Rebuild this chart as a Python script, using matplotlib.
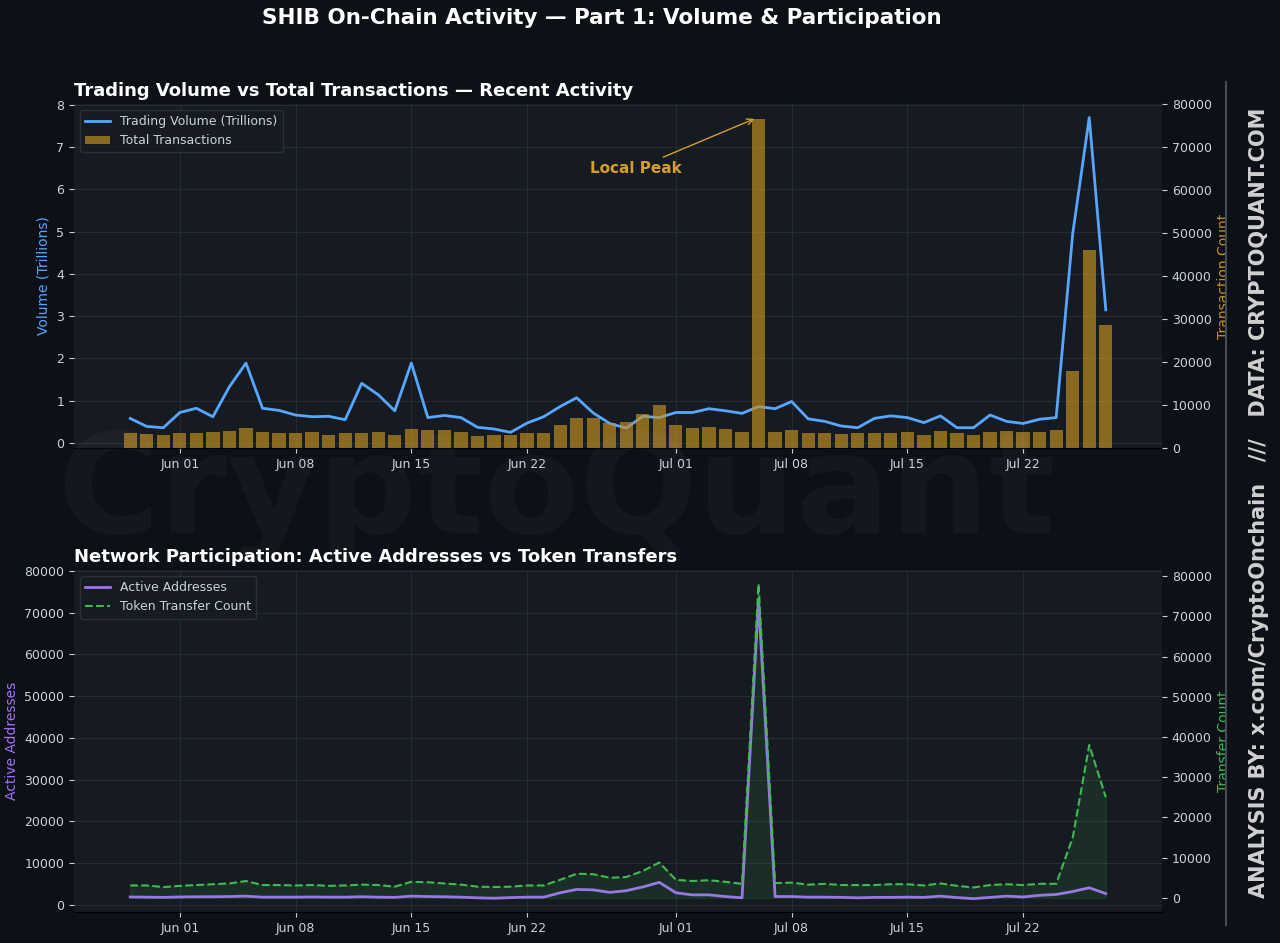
import numpy as np
import pandas as pd
import matplotlib
matplotlib.use("Agg")
import matplotlib.pyplot as plt
import matplotlib.dates as mdates

dates = pd.date_range("2025-05-29", "2025-07-27", freq="D")
volume_tn = [0.58,0.39,0.36,0.72,0.82,0.62,1.33,1.89,0.82,0.77,0.66,0.62,0.63,0.55,1.41,1.14,0.76,1.89,
             0.60,0.65,0.60,0.37,0.33,0.25,0.47,0.62,0.86,1.07,0.71,0.46,0.35,0.63,0.60,
             0.72,0.72,0.81,0.76,0.70,0.86,0.81,0.98,0.57,0.51,0.40,0.36,0.58,0.64,0.60,0.48,0.64,
             0.36,0.36,0.66,0.51,0.46,0.56,0.60,4.95,7.70,3.15]
total_tx = [3400,3300,3100,3400,3500,3700,4000,4650,3700,3400,3400,3700,3100,3400,3500,3700,3100,4400,
            4200,4100,3700,2800,3000,3100,3400,3500,5350,7000,7000,5700,6050,7900,9900,
            5350,4650,4880,4420,3720,76500,3720,4110,3400,3490,3250,3400,3400,3500,3700,3100,3950,
            3400,3100,3700,3950,3700,3700,4190,17800,46000,28700]
active_addr = [1900,1850,1800,1900,1950,1950,2000,2100,1850,1850,1850,1900,1850,1850,1950,1850,1800,2100,
               2000,1950,1850,1700,1600,1750,1850,1850,2900,3700,3600,3000,3400,4300,5400,
               2900,2400,2400,2000,1700,73000,2000,2000,1850,1850,1800,1700,1800,1800,1850,1800,2100,
               1750,1500,1800,2100,1900,2300,2500,3200,4100,2700]
transfers = [3100,3100,2700,3000,3200,3400,3600,4200,3200,3200,3100,3200,3000,3100,3300,3200,2800,4000,
             3900,3600,3300,2800,2700,2800,3100,3100,4500,6000,5900,5000,5200,6700,8800,
             4500,4200,4400,4000,3500,78000,3700,3800,3300,3500,3200,3200,3200,3400,3400,3100,3600,
             3000,2600,3200,3400,3200,3500,3500,15000,38000,25000]

BG = "#0d1117"
AX = "#161b22"
GRID = "#262c34"
TXT = "#c9d1d9"

fig = plt.figure(figsize=(12.8, 9.43), dpi=100, facecolor=BG)
ax1 = fig.add_axes([74/1280, 1-448/943, 1088/1280, 344/943], facecolor=AX)
ax3 = fig.add_axes([74/1280, 1-912/943, 1088/1280, 342/943], facecolor=AX)

fig.text(0.045, 0.475, "CryptoQuant", fontsize=100, fontweight="bold", color="#ffffff",
         alpha=0.03, ha="left", va="center", zorder=0)

xlim = (dates[0] - pd.Timedelta(days=3.4), dates[-1] + pd.Timedelta(days=3.4))

# Top panel
ax2 = ax1.twinx()
ax1.plot(dates, volume_tn, color="#58a6ff", lw=2, label="Trading Volume (Trillions)", zorder=2)
ax2.bar(dates, total_tx, width=0.8, color="#c8921e", alpha=0.65, label="Total Transactions")
ax1.set_ylim(-0.12, 8.02)
ax2.set_ylim(0, 80000)
ax1.set_xlim(*xlim)
ax1.set_ylabel("Volume (Trillions)", color="#58a6ff", fontsize=10)
ax2.set_ylabel("Transaction Count", color="#c8921e", fontsize=10)
ax1.set_title("Trading Volume vs Total Transactions — Recent Activity", loc="left",
              color="white", fontsize=13, fontweight="bold")
ax2.annotate("Local Peak", xy=(dates[38] - pd.Timedelta(days=0.1), 76800),
             xytext=(dates[30] + pd.Timedelta(days=0.6), 65000),
             color="#d4a02a", fontsize=11, fontweight="bold", ha="center", va="center",
             arrowprops=dict(arrowstyle="->", color="#d4a02a", lw=1))
h1, l1 = ax1.get_legend_handles_labels()
h2, l2 = ax2.get_legend_handles_labels()
ax1.legend(h1 + h2, l1 + l2, loc="upper left", facecolor=AX, edgecolor="#30363d",
           labelcolor=TXT, fontsize=9)

# Bottom panel
ax4 = ax3.twinx()
ax3.plot(dates, active_addr, color="#a371f7", lw=2, label="Active Addresses", zorder=3)
ax4.plot(dates, transfers, color="#3fb950", lw=1.5, ls="--", label="Token Transfer Count")
ax4.fill_between(dates, 0, transfers, color="#3fb950", alpha=0.12)
ax3.set_ylim(-1700, 80200)
ax4.set_ylim(-3500, 81500)
ax3.set_xlim(*xlim)
ax3.set_ylabel("Active Addresses", color="#a371f7", fontsize=10)
ax4.set_ylabel("Transfer Count", color="#3fb950", fontsize=10)
ax3.set_title("Network Participation: Active Addresses vs Token Transfers", loc="left",
              color="white", fontsize=13, fontweight="bold")
h3, l3 = ax3.get_legend_handles_labels()
h4, l4 = ax4.get_legend_handles_labels()
ax3.legend(h3 + h4, l3 + l4, loc="upper left", facecolor=AX, edgecolor="#30363d",
           labelcolor=TXT, fontsize=9)

for a in (ax1, ax2, ax3, ax4):
    a.tick_params(colors=TXT, labelsize=9)
    for s in a.spines.values():
        s.set_visible(False)
for a in (ax1, ax3):
    a.grid(True, color=GRID, lw=0.8)
    a.set_axisbelow(True)
    a.xaxis.set_major_locator(mdates.DayLocator(bymonthday=[1, 8, 15, 22]))
    a.xaxis.set_major_formatter(mdates.DateFormatter("%b %d"))
    a.spines["bottom"].set_visible(True)
    a.spines["bottom"].set_color("#000000")

fig.suptitle("SHIB On-Chain Activity — Part 1: Volume & Participation", color="white",
             fontsize=15.5, fontweight="bold", y=0.992, x=0.47)

fig.add_artist(plt.Line2D([1226/1280, 1226/1280], [1-925/943, 1-82/943], color="#444c56", lw=1.5))
fig.text(1259/1280, 1-503/943, "ANALYSIS BY: x.com/CryptoOnchain   ///   DATA: CRYPTOQUANT.COM",
         rotation=90, color="#d0d0d0", fontsize=15, fontweight="bold", ha="center", va="center")

fig.savefig("out.png", dpi=100, facecolor=BG)
